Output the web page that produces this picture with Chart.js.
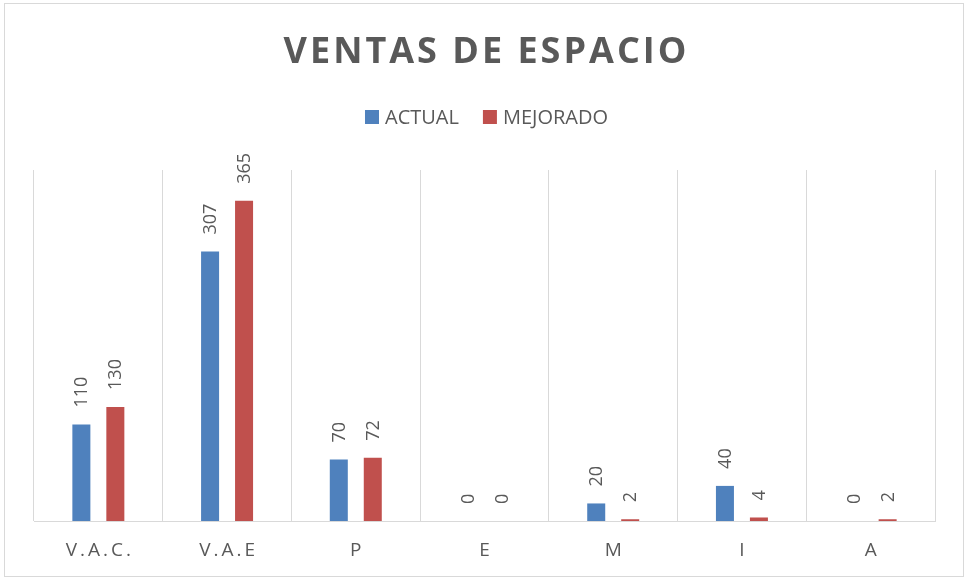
<!DOCTYPE html>
<html>
<head>
<meta charset="utf-8">
<title>Ventas de espacio</title>
<script src="https://cdn.jsdelivr.net/npm/chart.js@4"></script>
<style>
  html, body { margin: 0; padding: 0; background: #fff; overflow: hidden; }
  #grafica { display: block; }
</style>
</head>
<body>
<canvas id="grafica" width="966" height="578"></canvas>
<script>
// Datos
const titulo = "VENTAS DE ESPACIO";
const categorias = ["V.A.C.", "V.A.E", "P", "E", "M", "I", "A"];
const actual = [110, 307, 70, 0, 20, 40, 0];
const mejorado = [130, 365, 72, 0, 2, 4, 2];
const nombresSeries = ["ACTUAL", "MEJORADO"];

const gris = "#595959";
const lineas = "#d9d9d9";
const fuente = "'Open Sans', 'Liberation Sans', sans-serif";

// Titulo, leyenda, etiquetas del eje y de datos dibujados a mano (Excel usa espaciado de letras)
const textos = {
    id: "textos",
    beforeDraw(chart) {
        const ctx = chart.ctx;
        ctx.save();
        ctx.fillStyle = "#fff";
        ctx.fillRect(0, 0, chart.width, chart.height);
        ctx.strokeStyle = lineas;
        ctx.lineWidth = 1;
        ctx.strokeRect(4.5, 3.5, 959, 573);
        ctx.restore();
    },
    afterDatasetsDraw(chart) {
        const ctx = chart.ctx;
        ctx.save();
        ctx.font = "18px " + fuente;
        ctx.fillStyle = gris;
        ctx.textAlign = "left";
        ctx.textBaseline = "middle";
        chart.data.datasets.forEach((ds, i) => {
            chart.getDatasetMeta(i).data.forEach((bar, j) => {
                ctx.save();
                ctx.translate(bar.x + 1, bar.y - 17);
                ctx.rotate(-Math.PI / 2);
                ctx.fillText(String(ds.data[j]), 0, 0);
                ctx.restore();
            });
        });
        ctx.restore();
    },
    afterDraw(chart) {
        const ctx = chart.ctx;
        const xs = chart.scales.x;
        ctx.save();
        ctx.fillStyle = gris;
        ctx.textBaseline = "alphabetic";
        ctx.textAlign = "center";

        // titulo
        ctx.font = "bold 36px " + fuente;
        ctx.letterSpacing = "3px";
        ctx.fillText(titulo, 485 + 1.5, 63);

        // etiquetas de categoria
        ctx.font = "19px " + fuente;
        ctx.letterSpacing = "3px";
        categorias.forEach((c, i) => {
            ctx.fillText(c, xs.getPixelForValue(i) + 1.5, 556);
        });

        // leyenda
        ctx.letterSpacing = "0px";
        ctx.font = "20px " + fuente;
        ctx.textAlign = "left";
        const caja = 14, sep = 6, entre = 24;
        const anchos = nombresSeries.map(n => ctx.measureText(n).width);
        let total = 0;
        anchos.forEach((w, i) => { total += caja + sep + w + (i ? entre : 0); });
        let x = 486.5 - total / 2;
        chart.data.datasets.forEach((ds, i) => {
            ctx.fillStyle = ds.backgroundColor;
            ctx.fillRect(x, 110, caja, caja);
            ctx.fillStyle = gris;
            ctx.fillText(nombresSeries[i], x + caja + sep, 124);
            x += caja + sep + anchos[i] + entre;
        });
        ctx.restore();
    }
};

new Chart(document.getElementById("grafica").getContext("2d"), {
    type: "bar",
    data: {
        labels: categorias,
        datasets: [
            { label: nombresSeries[0], data: actual, backgroundColor: "#4f81bd" },
            { label: nombresSeries[1], data: mejorado, backgroundColor: "#c0504d" }
        ]
    },
    options: {
        responsive: false,
        animation: false,
        devicePixelRatio: 1,
        layout: { padding: { top: 170, left: 34, right: 31, bottom: 57 } },
        datasets: {
            bar: { categoryPercentage: 0.528, barPercentage: 0.53 }
        },
        plugins: {
            legend: { display: false },
            title: { display: false },
            tooltip: { enabled: false }
        },
        scales: {
            x: {
                grid: { color: lineas, lineWidth: 1, offset: true, drawTicks: false },
                border: { color: lineas, width: 1 },
                ticks: { display: false }
            },
            y: {
                display: false,
                min: 0,
                max: 400
            }
        }
    },
    plugins: [textos]
});
</script>
</body>
</html>
